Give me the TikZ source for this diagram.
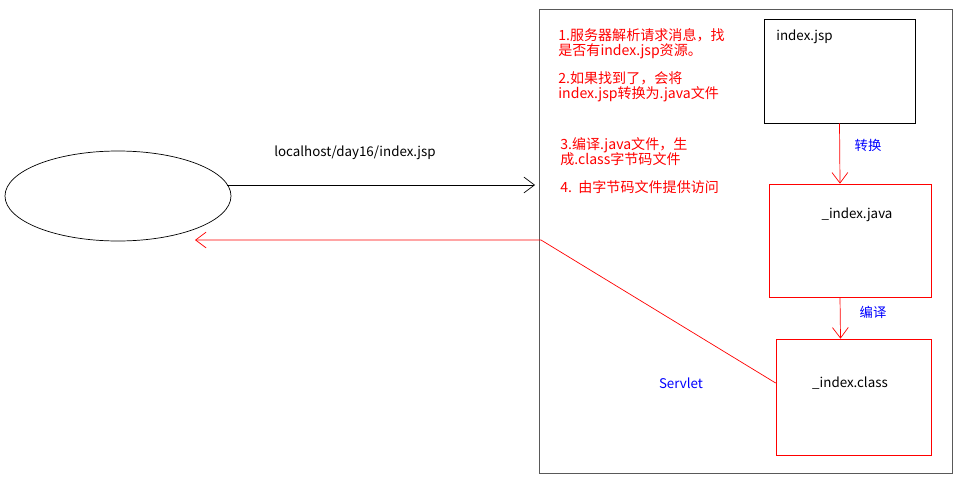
\documentclass[tikz,border=0pt]{standalone}
\usepackage{fontspec}
\setmainfont{Noto Sans CJK SC}
\usetikzlibrary{
    positioning,
    shapes.geometric,
    arrows.meta
    }

\tikzset{box/.style =
        {
            rectangle,
            draw,
            inner sep=0cm
        }
}

\tikzset{note/.style =
        {
            red,
            anchor=north west,
            align=left,
            inner sep=0cm,
            font=\fontsize{8}{8.8}\selectfont
        }
}

\tikzset{tag/.style = {
            inner sep=0cm,
            font=\fontsize{7.6}{8.6}\selectfont
        }
}

\tikzset{move/.style = {
            -{Straight Barb[length=6pt,width=9pt]}
        }
}

\begin{document}
\begin{tikzpicture}[x=0.02cm, y=-0.02cm]
		\useasboundingbox (0,0) rectangle (959,480);

		\node[draw, ellipse, minimum width=226*0.02cm, minimum height=90*0.02cm, inner sep=0cm] (browser) at (118,196) {};
		\draw[gray!70!black] (539,9) rectangle (952,473);

		\node[box, minimum width=151*0.02cm, minimum height=104*0.02cm] (jsp) at (839.5,71) {};
		\node[tag, anchor=north west] (jsp-text) at (776,30) {index.jsp};
		\node[box, red, minimum width=162*0.02cm, minimum height=113*0.02cm] (java) at (850,240.5) {};
		\node[tag] (java-text) at (857,215) {\_index.java};
		\node[box, red, minimum width=155*0.02cm, minimum height=116*0.02cm] (class) at (853.5,397) {};
		\node[tag] (class-text) at (850,383) {\_index.class};

		\node[note] (note1) at (558,28) {1.服务器解析请求消息，找\\是否有index.jsp资源。};
		\node[note] (note2) at (558,71) {2.如果找到了，会将\\index.jsp转换为.java文件};
		\node[note] (note3) at (560,137) {3.编译.java文件，生\\成.class字节码文件};
		\node[note] (note4) at (560,180) {4.\ \ 由字节码文件提供访问};

		\node[tag] (url) at (355,153) {localhost/day16/index.jsp};
		\node[tag, blue] (convert) at (868,145) {转换};
		\node[tag, blue] (compile) at (873,312) {编译};
		\node[tag, blue] (servlet) at (681,383) {Servlet};

		\coordinate (server-in) at (535,185);
		\coordinate (corner) at (541,240);
		\coordinate (browser-in) at (195,240);

		\draw[move] (browser.east |- server-in) ++(-4,0) -- (server-in);
		\draw[move, red] (jsp.south) -- ([xshift=-10*0.02cm]java.north);
		\draw[move, red] ([xshift=-10*0.02cm]java.south) -- ([xshift=-13*0.02cm]class.north);
		\draw[move, red] (class.west |- class-text) -- (corner) -- (browser-in);
	\end{tikzpicture}
\end{document}
